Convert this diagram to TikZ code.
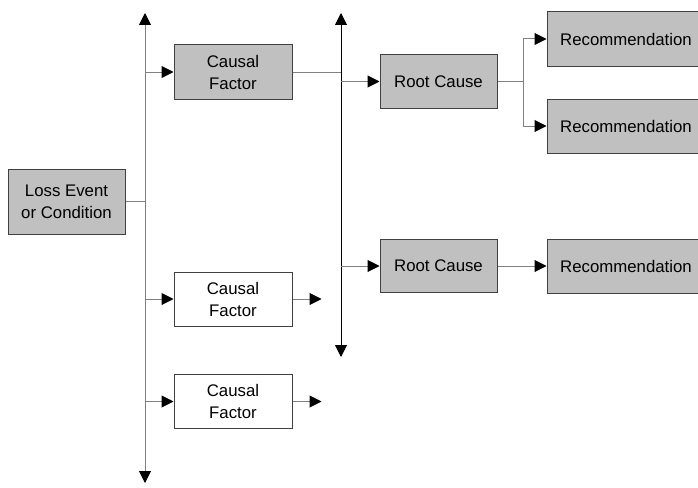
\documentclass[tikz,border=0pt]{standalone}
\usepackage{fontspec}
\setmainfont{Liberation Sans}
\usetikzlibrary{arrows.meta}
\definecolor{boxgray}{RGB}{192,192,192}
\definecolor{linegray}{RGB}{128,128,128}
\definecolor{edgegray}{RGB}{64,64,64}
\begin{document}
\begin{tikzpicture}[x=1pt,y=-1pt,
  every node/.style={font=\fontsize{16.8}{22}\selectfont, align=center, inner sep=0pt},
  box/.style={draw=edgegray, line width=1pt, minimum width=118pt, minimum height=54pt},
  shaded/.style={box, fill=boxgray},
  plain/.style={box, fill=white},
  wire/.style={draw=linegray, line width=1pt},
  feed/.style={wire, -{Triangle[length=12pt,width=12pt,color=black]}},
  spine/.style={line width=1pt, {Triangle[length=12pt,width=12pt,color=black]}-{Triangle[length=12pt,width=12pt,color=black]}}
]
\useasboundingbox (0,0) rectangle (698,487);
\clip (0,0) rectangle (698,487);

% boxes
\node[shaded, minimum width=117pt, minimum height=65pt] (loss) at (66.5,201.5) {Loss Event\\or Condition};
\node[shaded] (cf1) at (233,72) {Causal\\Factor};
\node[plain]  (cf2) at (233,299) {Causal\\Factor};
\node[plain]  (cf3) at (233,401.5) {Causal\\Factor};
\node[shaded, minimum width=117pt, minimum height=53pt] (rc1) at (438.5,81.5) {Root Cause};
\node[shaded, minimum width=117pt, minimum height=53pt] (rc2) at (438.5,266) {Root Cause};
\node[shaded, minimum width=158pt] (rec1) at (626,39) {Recommendation};
\node[shaded, minimum width=158pt] (rec2) at (626,126) {Recommendation};
\node[shaded, minimum width=158pt] (rec3) at (626,266) {Recommendation};

% spines
\coordinate (s1top) at (145,13);
\coordinate (s1bot) at (145,483);
\coordinate (s2top) at (341,13);
\coordinate (s2bot) at (341,357);
\draw[spine, draw=linegray] (s1bot) -- (s1top);
\draw[spine, draw=black] (s2bot) -- (s2top);

% loss event to first spine
\draw[wire] (loss.east) -- (loss.east -| s1top);

% spine to causal factors
\draw[feed] (s1top |- cf1.west) -- (cf1.west);
\draw[feed] (s1top |- cf2.west) -- (cf2.west);
\draw[feed] (s1top |- cf3.west) -- (cf3.west);

% causal factor outputs
\draw[wire] (cf1.east) -- (cf1.east -| s2top);
\coordinate (cf2out) at ([xshift=29pt]cf2.east);
\coordinate (cf3out) at ([xshift=29pt]cf3.east);
\draw[feed] (cf2.east) -- (cf2out);
\draw[feed] (cf3.east) -- (cf3out);

% spine to root causes
\draw[feed] (s2top |- rc1.west) -- (rc1.west);
\draw[feed] (s2top |- rc2.west) -- (rc2.west);

% root causes to recommendations
\coordinate (br) at ([xshift=26pt]rc1.east);
\draw[wire] (rc1.east) -- (br);
\draw[feed] (br) |- (rec1.west);
\draw[feed] (br) |- (rec2.west);
\draw[feed] (rc2.east) -- (rec3.west);
\end{tikzpicture}
\end{document}
